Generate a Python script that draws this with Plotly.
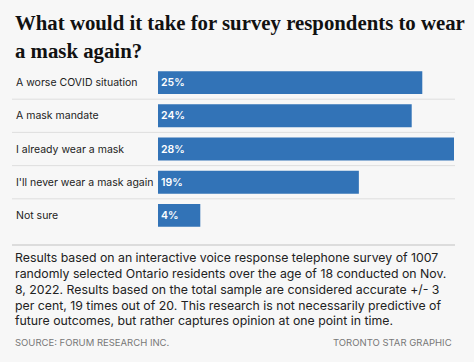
import plotly.graph_objects as go

categories = ["A worse COVID situation", "A mask mandate", "I already wear a mask",
              "I'll never wear a mask again", "Not sure"]
values = [25, 24, 28, 19, 4]
value_labels = [f"{v}%" for v in values]

title_lines = ["What would it take for survey respondents to wear", "a mask again?"]
note_lines = ["Results based on an interactive voice response telephone survey of 1007",
              "randomly selected Ontario residents over the age of 18 conducted on Nov.",
              "8, 2022. Results based on the total sample are considered accurate +/- 3",
              "per cent, 19 times out of 20. This research is not necessarily predictive of",
              "future outcomes, but rather captures opinion at one point in time."]
source_text = "SOURCE: FORUM RESEARCH INC."
credit_text = "TORONTO STAR GRAPHIC"

W, H = 474, 362
BG = "#f7f7f7"
BAR = "#3273b7"
SANS = "Inter, Roboto, sans-serif"

fig = go.Figure(go.Bar(
    x=values, y=categories, orientation="h",
    marker=dict(color=BAR, line=dict(width=0)),
    width=0.69,
    text=value_labels, textposition="inside", insidetextanchor="start",
    textfont=dict(family=SANS, size=10.5, color="white", weight=600),
    hoverinfo="skip",
))

x0, x1 = 158 / W, 454 / W
ytop, ybot = 1 - 66 / H, 1 - 232 / H

fig.update_layout(
    width=W, height=H,
    margin=dict(l=0, r=0, t=0, b=0),
    paper_bgcolor=BG, plot_bgcolor=BG,
    showlegend=False,
    xaxis=dict(domain=[x0, x1], range=[0, 28], visible=False, fixedrange=True),
    yaxis=dict(domain=[ybot, ytop], range=[4.5, -0.5], visible=False,
               categoryorder="array", categoryarray=categories, fixedrange=True),
    uniformtext=dict(mode="show", minsize=8),
)

shapes = []
for b in [0.5, 1.5, 2.5, 3.5]:
    shapes.append(dict(type="line", xref="paper", yref="y", x0=12 / W, x1=455 / W,
                       y0=b, y1=b, line=dict(color="#dedede", width=1), layer="below"))
shapes.append(dict(type="line", xref="paper", yref="paper", x0=12 / W, x1=455 / W,
                   y0=1 - 245 / H, y1=1 - 245 / H, line=dict(color="#dcdcdc", width=2)))
fig.update_layout(shapes=shapes)

ann = []
for i, c in enumerate(categories):
    ann.append(dict(xref="paper", yref="y", x=14 / W, y=i, text=c, showarrow=False,
                    xanchor="left", yanchor="middle",
                    font=dict(family=SANS, size=10.5, color="#222222")))
for j, line in enumerate(title_lines):
    ann.append(dict(xref="paper", yref="paper", x=13 / W, y=1 - (23 + 28 * j) / H, text=line,
                    showarrow=False, xanchor="left", yanchor="middle", align="left",
                    font=dict(family="Liberation Serif, serif", size=20.8, color="#111111",
                              weight="bold")))
for j, line in enumerate(note_lines):
    ann.append(dict(xref="paper", yref="paper", x=13 / W, y=1 - (257.5 + 15.85 * j) / H,
                    text=line, showarrow=False, xanchor="left", yanchor="middle", align="left",
                    font=dict(family=SANS, size=12.3, color="#222222")))
ann.append(dict(xref="paper", yref="paper", x=13 / W, y=1 - 342 / H, text=source_text,
                showarrow=False, xanchor="left", yanchor="middle",
                font=dict(family=SANS, size=9.5, color="#777777")))
ann.append(dict(xref="paper", yref="paper", x=454 / W, y=1 - 342 / H, text=credit_text,
                showarrow=False, xanchor="right", yanchor="middle",
                font=dict(family=SANS, size=9.5, color="#777777")))
fig.update_layout(annotations=ann)

fig.write_html("out.html", config={"displayModeBar": False},
               post_script="document.body.style.margin='0';")
